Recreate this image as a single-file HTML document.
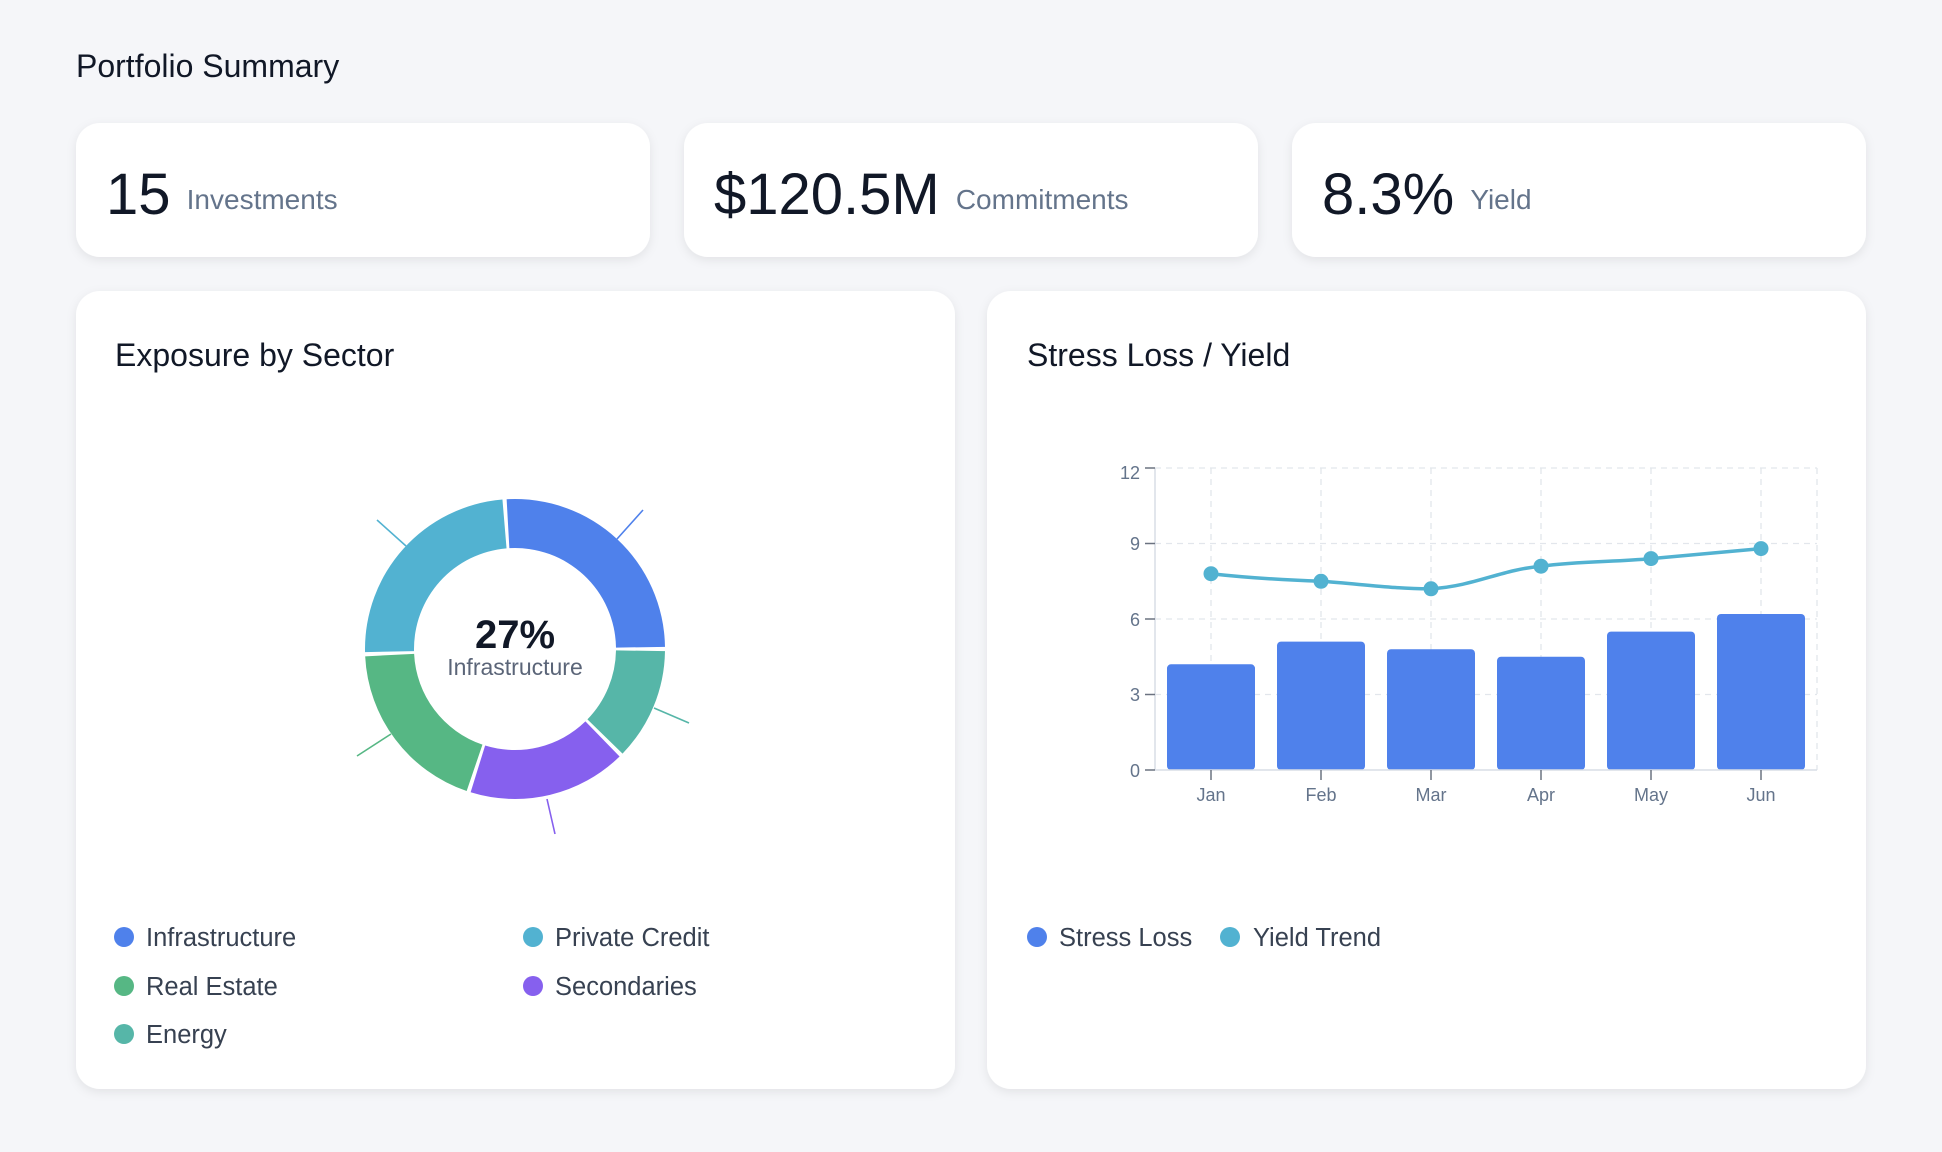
<!DOCTYPE html>
<html><head><meta charset="utf-8"><style>
html,body{margin:0;padding:0;width:1942px;height:1152px;background:#f5f6f9;font-family:"Liberation Sans",sans-serif;overflow:hidden}
svg{display:block}
</style></head><body>
<svg width="1942" height="1152" viewBox="0 0 1942 1152" xmlns="http://www.w3.org/2000/svg" font-family="Liberation Sans, sans-serif">
<defs>
<filter id="sh" x="-5%" y="-10%" width="110%" height="130%"><feDropShadow dx="0" dy="3" stdDeviation="5" flood-color="#000" flood-opacity="0.08"/></filter>
</defs>
<rect width="1942" height="1152" fill="#f5f6f9"/>
<text x="76" y="77" font-size="32" fill="#111827">Portfolio Summary</text>

<g filter="url(#sh)" fill="#fff">
<rect x="76" y="123" width="574" height="134" rx="24"/>
<rect x="684" y="123" width="574" height="134" rx="24"/>
<rect x="1292" y="123" width="574" height="134" rx="24"/>
<rect x="76" y="291" width="879" height="798" rx="24"/>
<rect x="987" y="291" width="879" height="798" rx="24"/>
</g>

<text x="106" y="214" font-size="58" fill="#111827">15 <tspan font-size="28" fill="#64748b" dy="-5">Investments</tspan></text>
<text x="714" y="214" font-size="58" fill="#111827">$120.5M <tspan font-size="28" fill="#64748b" dy="-5">Commitments</tspan></text>
<text x="1322" y="214" font-size="58" fill="#111827">8.3% <tspan font-size="28" fill="#64748b" dy="-5">Yield</tspan></text>

<text x="115" y="366" font-size="32" fill="#111827">Exposure by Sector</text>
<text x="1027" y="366" font-size="32" fill="#111827">Stress Loss / Yield</text>

<g id="donut"></g>
<g stroke-width="1.6">
<line x1="617" y1="539" x2="643" y2="510" stroke="#4f81eb"/>
<line x1="406" y1="546" x2="377" y2="520" stroke="#52b2d1"/>
<line x1="654" y1="708" x2="689" y2="723" stroke="#56b6a8"/>
<line x1="547" y1="799" x2="555" y2="834" stroke="#8660ee"/>
<line x1="391" y1="734" x2="357" y2="756" stroke="#56b784"/>
</g>
<text x="515" y="648" font-size="40" font-weight="bold" fill="#111827" text-anchor="middle">27%</text>
<text x="515" y="675" font-size="23" fill="#5b6578" text-anchor="middle">Infrastructure</text>

<g font-size="25.5" fill="#374151">
<circle cx="124" cy="937" r="10" fill="#4f81eb"/><text x="146" y="946">Infrastructure</text>
<circle cx="533" cy="937" r="10" fill="#52b2d1"/><text x="555" y="946">Private Credit</text>
<circle cx="124" cy="986" r="10" fill="#56b784"/><text x="146" y="995">Real Estate</text>
<circle cx="533" cy="986" r="10" fill="#8660ee"/><text x="555" y="995">Secondaries</text>
<circle cx="124" cy="1034" r="10" fill="#56b6a8"/><text x="146" y="1043">Energy</text>
<circle cx="1037" cy="937" r="10" fill="#4f81eb"/><text x="1059" y="946">Stress Loss</text>
<circle cx="1230" cy="937" r="10" fill="#52b2d1"/><text x="1253" y="946">Yield Trend</text>
</g>

<g stroke="#e2e6ec" stroke-width="1.3" stroke-dasharray="6,5" fill="none">
<line x1="1155" y1="468" x2="1817" y2="468"/>
<line x1="1155" y1="543.5" x2="1817" y2="543.5"/>
<line x1="1155" y1="619" x2="1817" y2="619"/>
<line x1="1155" y1="694.5" x2="1817" y2="694.5"/>
<line x1="1211" y1="468" x2="1211" y2="770"/>
<line x1="1321" y1="468" x2="1321" y2="770"/>
<line x1="1431" y1="468" x2="1431" y2="770"/>
<line x1="1541" y1="468" x2="1541" y2="770"/>
<line x1="1651" y1="468" x2="1651" y2="770"/>
<line x1="1761" y1="468" x2="1761" y2="770"/>
<line x1="1817" y1="468" x2="1817" y2="770"/>
</g>
<g fill="#4f81eb">
<rect x="1167" y="664.3" width="88" height="105.7" rx="4"/>
<rect x="1277" y="641.6" width="88" height="128.4" rx="4"/>
<rect x="1387" y="649.2" width="88" height="120.8" rx="4"/>
<rect x="1497" y="656.7" width="88" height="113.3" rx="4"/>
<rect x="1607" y="631.6" width="88" height="138.4" rx="4"/>
<rect x="1717" y="614" width="88" height="156" rx="4"/>
</g>
<g stroke="#d9dee6" stroke-width="1.5"><line x1="1155" y1="468" x2="1155" y2="770"/><line x1="1155" y1="770" x2="1817" y2="770"/></g>
<g stroke="#6b7280" stroke-width="1.5">
<line x1="1145" y1="468" x2="1155" y2="468"/><line x1="1145" y1="543.5" x2="1155" y2="543.5"/><line x1="1145" y1="619" x2="1155" y2="619"/><line x1="1145" y1="694.5" x2="1155" y2="694.5"/><line x1="1145" y1="770" x2="1155" y2="770"/>
<line x1="1211" y1="770" x2="1211" y2="780"/><line x1="1321" y1="770" x2="1321" y2="780"/><line x1="1431" y1="770" x2="1431" y2="780"/><line x1="1541" y1="770" x2="1541" y2="780"/><line x1="1651" y1="770" x2="1651" y2="780"/><line x1="1761" y1="770" x2="1761" y2="780"/>
</g>
<g font-size="18" fill="#64748b" text-anchor="end">
<text x="1140" y="479">12</text><text x="1140" y="550">9</text><text x="1140" y="626">6</text><text x="1140" y="701">3</text><text x="1140" y="777">0</text>
</g>
<g font-size="18" fill="#64748b" text-anchor="middle">
<text x="1211" y="801">Jan</text><text x="1321" y="801">Feb</text><text x="1431" y="801">Mar</text><text x="1541" y="801">Apr</text><text x="1651" y="801">May</text><text x="1761" y="801">Jun</text>
</g>
<path d="M1211,573.7 C1250,578 1285,580 1321,581.3 C1360,584 1395,589 1431,588.8 C1475,586 1500,570 1541,566.2 C1580,561 1615,562 1651,558.6 C1690,555 1725,552 1761,548.6" fill="none" stroke="#52b2d1" stroke-width="3.5"/>
<g fill="#52b2d1">
<circle cx="1211" cy="573.7" r="7.5"/><circle cx="1321" cy="581.3" r="7.5"/><circle cx="1431" cy="588.8" r="7.5"/><circle cx="1541" cy="566.2" r="7.5"/><circle cx="1651" cy="558.6" r="7.5"/><circle cx="1761" cy="548.6" r="7.5"/>
</g>
<script>
(function(){
var cx=515,cy=649,R=150,r=101,g=document.getElementById('donut');
var segs=[[-4,90,'#4f81eb'],[90,135,'#56b6a8'],[135,198,'#8660ee'],[198,268,'#56b784'],[268,356,'#52b2d1']];
var gap=1.6;
function p(a,rad){var t=(a-90)*Math.PI/180;return [cx+rad*Math.cos(t),cy+rad*Math.sin(t)];}
segs.forEach(function(s){
var a0=s[0]+gap/2,a1=s[1]-gap/2,l=(a1-a0)>180?1:0;
var A=p(a0,R),B=p(a1,R),C=p(a1,r),D=p(a0,r);
var d='M'+A+' A'+R+','+R+' 0 '+l+' 1 '+B+' L'+C+' A'+r+','+r+' 0 '+l+' 0 '+D+' Z';
var e=document.createElementNS('http://www.w3.org/2000/svg','path');
e.setAttribute('d',d);e.setAttribute('fill',s[2]);g.appendChild(e);
});
})();
</script>
</svg>
</body></html>
